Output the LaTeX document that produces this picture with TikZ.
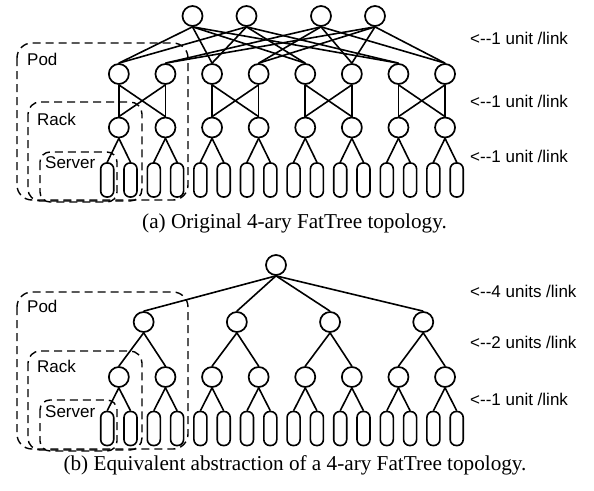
\documentclass[tikz,border=0pt]{standalone}
\usepackage{fontspec}
\newfontfamily\labfont{Liberation Sans}
\newfontfamily\capfont{Liberation Serif}
\begin{document}
\begin{tikzpicture}[x=1pt,y=-1pt,
  sw/.style={circle,draw,line width=1.7pt,minimum size=20pt,inner sep=0pt,fill=white},
  srv/.style={rectangle,rounded corners=6pt,draw,line width=1.6pt,minimum width=13pt,minimum height=34pt,inner sep=0pt,fill=white},
  lnk/.style={line width=1.6pt},
  grp/.style={draw,dash pattern=on 8pt off 5pt,line width=1.4pt},
  lab/.style={anchor=base west,inner sep=0pt,font=\labfont\fontsize{17}{20}\selectfont},
  captext/.style={anchor=base,inner sep=0pt,font=\capfont\fontsize{21.2}{24}\selectfont}]
\useasboundingbox (0,0) rectangle (594,490);

% ---------- (a) ----------
\draw[grp,rounded corners=15pt] (17,43) rectangle (188,200);
\draw[grp,rounded corners=12pt] (28,102) rectangle (142,201);
\draw[grp,rounded corners=10pt] (40,152) rectangle (117,202);
\node[lab] (tpod) at (27,65) {Pod};
\node[lab] (track) at (37,125) {Rack};
\node[lab] (tserver) at (45,168) {Server};

\foreach \k in {0,...,15} \node[srv] (tS\k) at ({107.2+23.3*\k},180) {};
\foreach \j in {0,...,7} {
  \node[sw] (tE\j) at ({118.85+46.6*\j},127.5) {};
  \node[sw] (tA\j) at ({118.85+46.6*\j},74) {};
}
\node[sw] (tC1) at (192.5,16) {};
\node[sw] (tC2) at (246.5,16) {};
\node[sw] (tC3) at (321,16) {};
\node[sw] (tC4) at (375,16) {};

\foreach \j in {0,...,7} {
  \pgfmathtruncatemacro{\a}{2*\j}
  \pgfmathtruncatemacro{\b}{2*\j+1}
  \draw[lnk] (tE\j.south) -- (tS\a.north);
  \draw[lnk] (tE\j.south) -- (tS\b.north);
}
\foreach \p in {0,...,3} {
  \pgfmathtruncatemacro{\a}{2*\p}
  \pgfmathtruncatemacro{\b}{2*\p+1}
  \draw[lnk] (tA\a.south) -- (tE\a.north);
  \draw[lnk] (tA\b.south) -- (tE\b.north);
  \draw[lnk] (tA\a.south) -- (tE\b.north);
  \draw[lnk] (tA\b.south) -- (tE\a.north);
  \draw[lnk] (tC1.south) -- (tA\a.north);
  \draw[lnk] (tC2.south) -- (tA\a.north);
  \draw[lnk] (tC3.south) -- (tA\b.north);
  \draw[lnk] (tC4.south) -- (tA\b.north);
}
\node[lab] (tl1) at (470,44) {<\mbox{-}\mbox{-}1 unit /link};
\node[lab] (tl2) at (470,107) {<\mbox{-}\mbox{-}1 unit /link};
\node[lab] (tl3) at (470,162) {<\mbox{-}\mbox{-}1 unit /link};
\node[captext] (capa) at (294.5,228) {(a) Original 4-ary FatTree topology.};

% ---------- (b) ----------
\draw[grp,rounded corners=15pt] (17,292) rectangle (188,449);
\draw[grp,rounded corners=12pt] (28,351) rectangle (142,450);
\draw[grp,rounded corners=10pt] (40,400) rectangle (117,451);
\node[lab] (bpod) at (27,312) {Pod};
\node[lab] (brack) at (37,372) {Rack};
\node[lab] (bserver) at (45,417) {Server};

\foreach \k in {0,...,15} \node[srv] (bS\k) at ({107.2+23.3*\k},428.5) {};
\foreach \j in {0,...,7} \node[sw] (bE\j) at ({118.85+46.6*\j},377) {};
\foreach \p in {0,...,3} \node[sw] (bA\p) at ({118.85+46.6*(2*\p+0.5)+1.5},322) {};
\node[sw] (bR) at (276,265) {};

\foreach \j in {0,...,7} {
  \pgfmathtruncatemacro{\a}{2*\j}
  \pgfmathtruncatemacro{\b}{2*\j+1}
  \draw[lnk] (bE\j.south) -- (bS\a.north);
  \draw[lnk] (bE\j.south) -- (bS\b.north);
}
\foreach \p in {0,...,3} {
  \pgfmathtruncatemacro{\a}{2*\p}
  \pgfmathtruncatemacro{\b}{2*\p+1}
  \draw[lnk] (bA\p.south) -- (bE\a.north);
  \draw[lnk] (bA\p.south) -- (bE\b.north);
  \draw[lnk] (bR.south) -- (bA\p.north);
}
\node[lab] (bl1) at (470,297) {<\mbox{-}\mbox{-}4 units /link};
\node[lab] (bl2) at (470,348) {<\mbox{-}\mbox{-}2 units /link};
\node[lab] (bl3) at (470,405) {<\mbox{-}\mbox{-}1 unit /link};
\node[captext] (capb) at (295,470) {(b) Equivalent abstraction of a 4-ary FatTree topology.};
\end{tikzpicture}
\end{document}
